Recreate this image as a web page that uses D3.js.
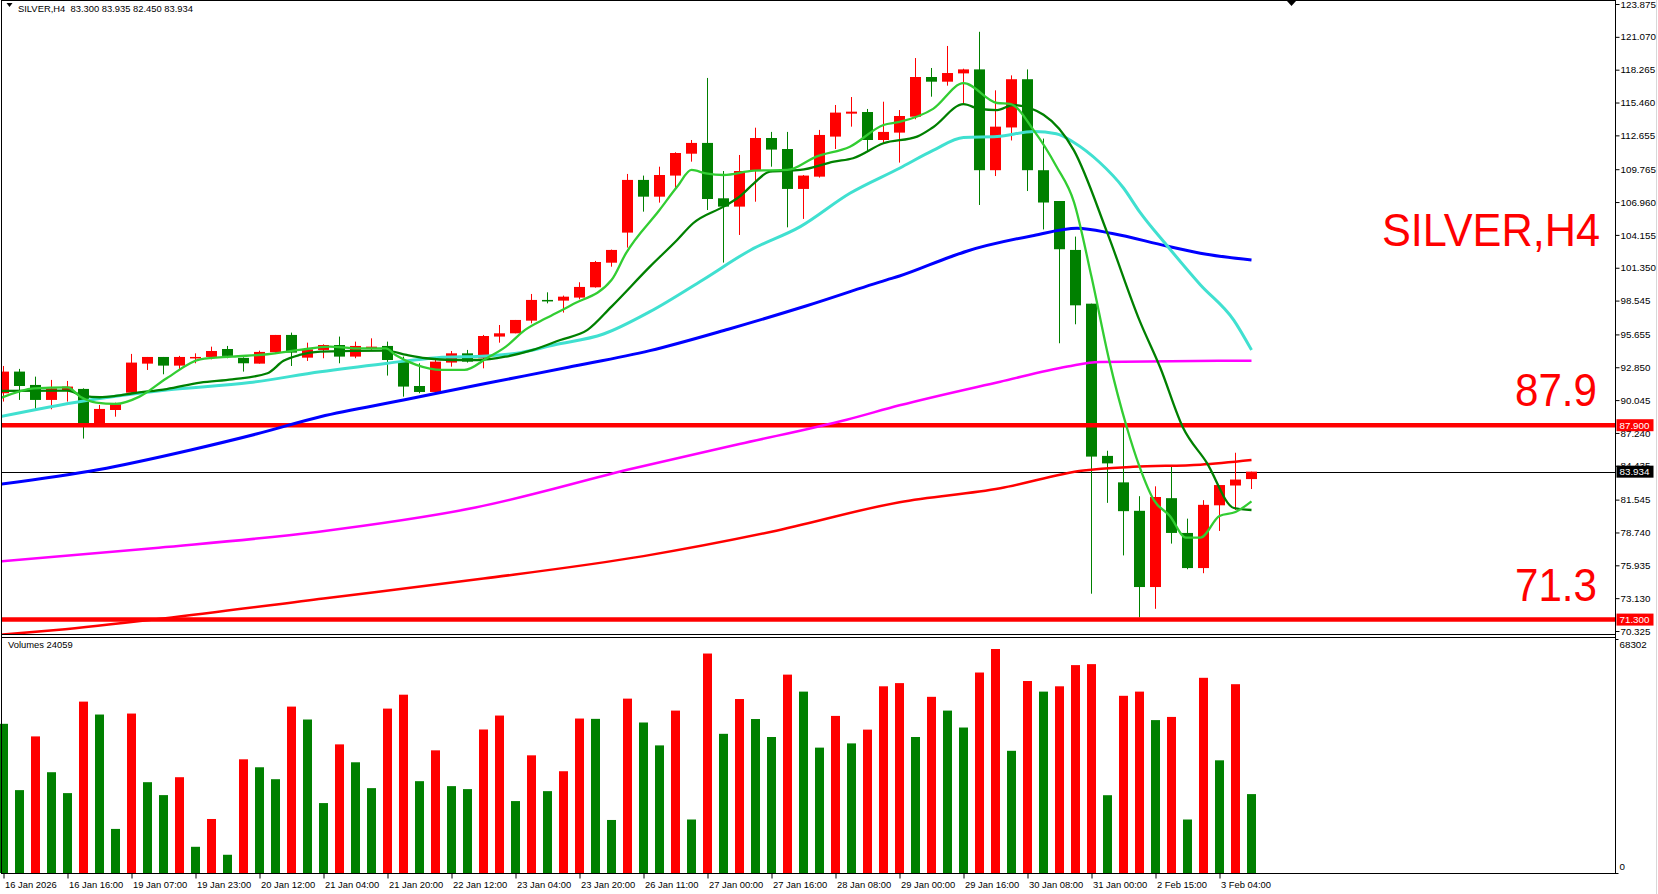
<!DOCTYPE html>
<html><head><meta charset="utf-8">
<script src="https://cdn.jsdelivr.net/npm/d3@7"></script>
<style>
body{margin:0;background:#fff;}
svg{display:block;}
text{font-family:"Liberation Sans",Arial,sans-serif;}
</style>
</head><body>
<svg id="c" width="1658" height="894"></svg>
<script>
// ---------- DATA ----------
const symbol = "SILVER,H4";
const open  = [90.63,92.48,91.34,90.06,90.86,91.00,88.01,89.20,90.68,93.16,93.73,92.99,93.67,93.73,94.41,93.65,93.16,94.13,95.61,93.67,94.33,94.75,93.76,94.55,94.67,93.33,91.25,90.74,93.25,94.04,93.62,95.47,95.75,96.83,98.60,98.54,98.80,99.68,101.78,104.35,108.85,107.42,109.22,111.09,112.01,107.28,106.57,109.64,112.43,111.49,108.08,109.13,112.55,114.51,114.65,112.26,112.89,114.25,117.64,117.24,117.95,118.29,109.68,113.33,117.45,109.68,107.05,102.87,98.28,85.28,83.02,80.59,74.08,81.67,78.70,75.70,81.06,82.75,83.300];
const high  = [92.96,92.71,92.05,91.77,91.68,91.05,89.63,89.83,93.99,93.73,93.73,93.82,94.04,94.61,94.67,93.70,94.27,95.61,95.81,94.95,94.81,95.47,95.04,95.32,95.04,93.76,93.19,93.47,94.24,94.33,95.61,96.46,96.89,99.11,99.25,98.97,100.11,101.93,102.90,109.36,109.22,109.98,111.21,112.26,117.56,109.61,110.98,113.31,112.95,112.95,109.27,113.12,115.25,115.93,114.91,115.53,114.82,119.26,118.41,120.29,118.35,121.50,116.50,117.78,118.29,112.38,107.05,104.01,98.28,85.72,87.75,81.84,82.68,84.37,79.92,81.50,82.79,85.55,83.935];
const low   = [89.92,90.06,89.26,89.26,89.92,86.76,87.80,88.63,90.63,92.62,92.25,92.62,93.19,93.53,93.62,92.48,93.16,94.10,92.96,93.39,93.62,93.19,93.62,94.33,92.14,90.34,90.63,90.63,92.90,93.25,92.76,94.95,95.75,96.60,98.31,97.52,98.65,99.65,101.44,103.07,106.14,106.91,108.13,110.41,106.28,101.79,104.15,106.99,109.98,104.80,105.52,109.05,111.49,113.40,111.27,111.92,110.33,114.03,115.96,116.90,115.42,106.71,109.18,112.22,107.90,104.62,94.90,96.52,73.51,81.27,76.78,71.48,72.22,77.79,75.60,75.26,78.87,80.66,82.450];
const close = [92.48,91.25,90.06,91.05,91.20,88.01,89.29,89.69,93.25,93.73,92.99,93.73,93.73,94.24,93.82,93.19,94.16,95.61,94.10,94.38,94.75,93.76,94.67,94.61,93.47,91.20,90.74,93.33,94.04,93.33,95.52,95.75,96.89,98.60,98.54,98.88,99.71,101.84,102.87,108.85,107.42,109.27,111.15,112.01,107.22,106.57,109.61,112.43,111.44,108.08,109.22,112.69,114.60,114.68,112.26,112.95,114.31,117.64,117.24,117.98,118.29,109.68,113.40,117.45,109.68,106.92,102.93,98.14,85.22,84.64,80.56,74.08,81.77,78.70,75.70,81.10,82.79,83.26,83.934];
const volumes = [45490,25270,41650,30730,24360,52260,48320,13440,48620,27690,23750,29210,7990,16470,5560,34670,32240,28600,50740,46800,21320,39220,33760,25880,50130,54370,28000,37400,26490,25580,43760,48010,21930,35880,24960,31030,47100,47000,16170,53170,45890,38910,49520,16310,66920,42440,53050,46950,41470,60490,55310,38230,47900,39520,43720,56930,57900,41470,53720,49520,44360,61130,68302,37260,58540,55310,56930,63390,63690,23720,54030,55310,46620,47590,16310,59520,34360,57570,24059];
const volumeMax = 68302;

const timeLabels = ["16 Jan 2026","16 Jan 16:00","19 Jan 07:00","19 Jan 23:00","20 Jan 12:00","21 Jan 04:00","21 Jan 20:00","22 Jan 12:00","23 Jan 04:00","23 Jan 20:00","26 Jan 11:00","27 Jan 00:00","27 Jan 16:00","28 Jan 08:00","29 Jan 00:00","29 Jan 16:00","30 Jan 08:00","31 Jan 00:00","2 Feb 15:00","3 Feb 04:00"];
const timeLabelBars = [0,4,8,12,16,20,24,28,32,36,40,44,48,52,56,60,64,68,72,76];
const priceTicks = [123.875,121.070,118.265,115.460,112.655,109.765,106.960,104.155,101.350,98.545,95.655,92.850,90.045,87.240,84.435,81.545,78.740,75.935,73.130,70.325];

const levels = [87.9, 71.3];
const lastPrice = 83.934;

// moving averages: [bar index, value]
const maLime = [[-0.2,90.20],[1.9,91.05],[4,91.14],[4.8,90.34],[5.8,89.83],[7,89.72],[8.5,90.34],[10.2,91.91],[12.3,93.53],[14.3,93.76],[16.5,93.96],[18.5,94.33],[20.4,94.61],[21.9,94.47],[23.9,94.47],[24.5,93.90],[25.8,93.05],[27.4,92.62],[28.8,92.62],[30.2,93.62],[31.4,94.61],[32.6,96.04],[33.9,97.03],[35.5,98.17],[38,100.30],[38.9,102.58],[41,106.28],[42.1,108.26],[43,109.70],[43.9,109.41],[45,109.27],[46.9,109.64],[49,109.70],[50.8,110.84],[52.9,111.69],[55,113.54],[56,113.80],[58.1,114.92],[60,117.11],[62.1,115.42],[62.9,115.35],[64.4,113.06],[65.8,110.02],[66.9,106.98],[68,100.57],[69.1,93.48],[70.2,87.75],[71,84.37],[71.9,81.50],[72.9,80.15],[73.9,78.30],[74.8,78.30],[76,80.15],[77,80.49],[78,81.40]];
const maGreen = [[-0.2,90.83],[4,90.85],[5,90.40],[6,90.29],[7,90.40],[8.1,90.63],[10.2,90.99],[12.3,91.54],[14.3,91.82],[16.5,92.34],[17.5,93.40],[18.5,93.90],[19.8,94.18],[23.9,94.27],[25.2,93.90],[26.4,93.62],[28.1,93.47],[29.7,93.47],[31.4,93.76],[33.1,94.33],[34.8,95.18],[36.5,96.04],[38,98.03],[40.4,101.44],[42.1,103.72],[43.1,105.15],[45,106.57],[46,107.42],[46.9,108.56],[47.9,109.56],[49.8,109.70],[51.9,110.41],[53.1,110.70],[55,111.98],[57.1,112.55],[58.1,113.35],[60,115.32],[61,114.91],[62.1,114.81],[63.1,115.25],[65,114.41],[66.9,111.37],[69,104.28],[71,96.86],[72.3,92.81],[73.7,87.75],[75.2,84.71],[76.9,80.83],[78,80.66]];
const maTurq = [[-0.2,88.63],[5,89.97],[10.2,90.91],[15.4,91.54],[19.8,92.47],[23.9,93.18],[27.1,93.67],[30.2,93.81],[32.3,94.10],[34.4,94.75],[37.5,95.69],[40.4,97.60],[43.7,100.31],[46.7,102.87],[49.8,104.86],[52.9,107.71],[56,109.85],[58.1,111.37],[60,112.48],[62.1,112.55],[64.4,112.99],[65.8,112.79],[66.9,112.05],[68.5,110.36],[70,108.16],[71,106.14],[72.7,103.27],[74.8,99.90],[76.9,96.86],[78,94.33]];
const maBlue = [[-0.2,82.86],[5.9,84.10],[11.7,85.79],[15.8,87.15],[19.8,88.63],[25,90.05],[30.2,91.48],[35.3,92.85],[40.4,94.27],[45.3,96.10],[50.2,98.10],[55.2,100.31],[56,100.64],[59.2,102.29],[60.2,102.76],[64.4,104.11],[67.1,104.72],[69.3,104.28],[72.7,103.20],[74.8,102.59],[78,102.02]];
const maMagenta = [[-0.2,76.27],[9.7,77.44],[19.6,78.79],[29.5,80.87],[39.4,84.22],[46,86.29],[52.7,88.37],[56,89.60],[62.3,91.62],[66.5,92.91],[68.5,93.31],[78,93.41]];
const maRed = [[-0.2,70.00],[3.3,70.41],[10,71.40],[20,73.10],[30,74.80],[40,76.72],[48,78.80],[56,81.33],[62.3,82.52],[67.5,84.03],[70.6,84.35],[74.8,84.53],[78,84.93]];

// ---------- DRAW ----------
const RED = "#ff0000", GRN = "#008000";
const AX = 1615.5;
const svg = d3.select("#c");
const x = d3.scaleLinear().domain([0, 78]).range([3.5, 1251.5]);
const y = d3.scaleLinear().domain([70.325, 123.875]).range([631, 4]);
const yv = d3.scaleLinear().domain([0, volumeMax]).range([873, 649]);

svg.append("defs").append("clipPath").attr("id","mainClip")
  .append("rect").attr("x",2).attr("y",1).attr("width",AX-2).attr("height",633);

const g = svg.append("g").attr("clip-path","url(#mainClip)");

// bid line
g.append("line").attr("x1",2).attr("x2",AX)
  .attr("y1",Math.round(y(lastPrice))+0.5).attr("y2",Math.round(y(lastPrice))+0.5)
  .attr("stroke","#000").attr("stroke-width",1);

const idx = d3.range(open.length);
const col = i => close[i] >= open[i] ? RED : GRN;
g.selectAll("line.wick").data(idx).join("line").attr("class","wick")
  .attr("x1",i=>x(i)).attr("x2",i=>x(i))
  .attr("y1",i=>y(high[i])).attr("y2",i=>y(low[i]))
  .attr("stroke",col).attr("stroke-width",1);
g.selectAll("rect.body").data(idx).join("rect").attr("class","body")
  .attr("x",i=>x(i)-5.5).attr("width",11)
  .attr("y",i=>y(Math.max(open[i],close[i])))
  .attr("height",i=>Math.max(1.5,Math.abs(y(open[i])-y(close[i]))))
  .attr("fill",col);

// horizontal levels
g.selectAll("line.level").data(levels).join("line").attr("class","level")
  .attr("x1",2).attr("x2",AX).attr("y1",d=>y(d)).attr("y2",d=>y(d))
  .attr("stroke",RED).attr("stroke-width",4.5);

// moving averages
const line = d3.line().x(d=>x(d[0])).y(d=>y(d[1])).curve(d3.curveMonotoneX);
const mas = [
  {d:maRed, c:"#ff0000", w:2.5},
  {d:maMagenta, c:"#ff00ff", w:2.5},
  {d:maBlue, c:"#0000ff", w:3},
  {d:maTurq, c:"#40e0d0", w:3},
  {d:maGreen, c:"#008000", w:2.3},
  {d:maLime, c:"#32cd32", w:2.3}
];
g.selectAll("path.ma").data(mas).join("path").attr("class","ma")
  .attr("d",m=>line(m.d)).attr("fill","none").attr("stroke",m=>m.c).attr("stroke-width",m=>m.w)
  .attr("stroke-linejoin","round");

// big texts
const bigTexts = [
  {t:symbol, x:1600, y:246, len:218},
  {t:String(levels[0]), x:1597, y:406, len:82},
  {t:String(levels[1]), x:1597, y:601, len:82}
];
svg.selectAll("text.big").data(bigTexts).join("text").attr("class","big")
  .attr("x",d=>d.x).attr("y",d=>d.y).attr("text-anchor","end")
  .attr("font-size",47).attr("fill",RED)
  .attr("textLength",d=>d.len).attr("lengthAdjust","spacingAndGlyphs")
  .text(d=>d.t);

// volumes
svg.append("g").selectAll("rect").data(idx).join("rect")
  .attr("x",i=>x(i)-4.5).attr("width",9)
  .attr("y",i=>yv(volumes[i])).attr("height",i=>yv(0)-yv(volumes[i]))
  .attr("fill",i=> i>0 && volumes[i]>volumes[i-1] ? RED : GRN);

// frames
const fr = svg.append("g").attr("stroke","#000").attr("stroke-width",1).attr("fill","none");
fr.append("line").attr("x1",1.5).attr("x2",1.5).attr("y1",0).attr("y2",874);
fr.append("line").attr("x1",1.5).attr("x2",AX).attr("y1",0.5).attr("y2",0.5);
fr.append("line").attr("x1",1.5).attr("x2",AX).attr("y1",634.5).attr("y2",634.5);
fr.append("line").attr("x1",1.5).attr("x2",AX).attr("y1",637.5).attr("y2",637.5);
fr.append("line").attr("x1",1.5).attr("x2",AX).attr("y1",873.5).attr("y2",873.5);
fr.append("line").attr("x1",AX).attr("x2",AX).attr("y1",0).attr("y2",874);
svg.append("line").attr("x1",1656.5).attr("x2",1656.5).attr("y1",0).attr("y2",894).attr("stroke","#d8d8d8");

// shift marker
svg.append("path").attr("d","M1287,1L1296,1L1291.5,6Z").attr("fill","#000");

// price axis
const pa = svg.append("g").attr("transform",`translate(${AX},0)`)
  .call(d3.axisRight(y).tickValues(priceTicks).tickFormat(d3.format(".3f")).tickSize(4).tickPadding(1));
pa.select(".domain").remove();
pa.selectAll("text").attr("font-family","Liberation Sans, Arial, sans-serif").attr("font-size",9.8).attr("fill","#000");
pa.selectAll("line").attr("stroke","#000");

// price tags
const tags = [
  {v:levels[0], bg:RED, fg:"#fff"},
  {v:lastPrice, bg:"#000", fg:"#fff"},
  {v:levels[1], bg:RED, fg:"#fff"}
];
const tg = svg.selectAll("g.tag").data(tags).join("g").attr("class","tag")
  .attr("transform",d=>`translate(${AX+1},${y(d.v)})`);
tg.append("rect").attr("x",0).attr("y",-6).attr("width",37).attr("height",12).attr("fill",d=>d.bg);
tg.append("text").attr("x",3).attr("y",0).attr("dy","0.35em").attr("font-size",9.8).attr("fill",d=>d.fg)
  .text(d=>d.v.toFixed(3));

// volume axis labels
const vl = [volumeMax, 0];
svg.selectAll("text.vl").data(vl).join("text").attr("class","vl")
  .attr("x",AX+4).attr("y",d=> d===0 ? yv(d)-6 : yv(d)-4).attr("dy","0.35em")
  .attr("font-size",9.8).attr("fill","#000").text(d=>d);
svg.selectAll("line.vt").data(vl).join("line").attr("class","vt")
  .attr("x1",AX).attr("x2",AX+3).attr("y1",d=>d===0?873.5:639.5).attr("y2",d=>d===0?873.5:639.5).attr("stroke","#000");

// time axis
const ta = svg.append("g").attr("transform","translate(0,873.5)")
  .call(d3.axisBottom(x).tickValues(timeLabelBars).tickFormat((d,i)=>timeLabels[i]).tickSize(5).tickPadding(3));
ta.select(".domain").remove();
ta.selectAll("line").attr("stroke","#000");
ta.selectAll("text").attr("text-anchor","start").attr("x",1)
  .attr("font-family","Liberation Sans, Arial, sans-serif").attr("font-size",9.4).attr("fill","#000");

// header
svg.append("path").attr("d","M6.5,3L12.5,3L9.5,7Z").attr("fill","#000");
svg.append("text").attr("x",18).attr("y",11.5).attr("font-size",9.4).attr("fill","#000")
  .style("white-space","pre")
  .text(`${symbol}  ${open[78].toFixed(3)} ${high[78].toFixed(3)} ${low[78].toFixed(3)} ${close[78].toFixed(3)}`);
svg.append("text").attr("x",8).attr("y",648).attr("font-size",9.4).attr("fill","#000")
  .text(`Volumes ${volumes[volumes.length-1]}`);
</script>
</body></html>
